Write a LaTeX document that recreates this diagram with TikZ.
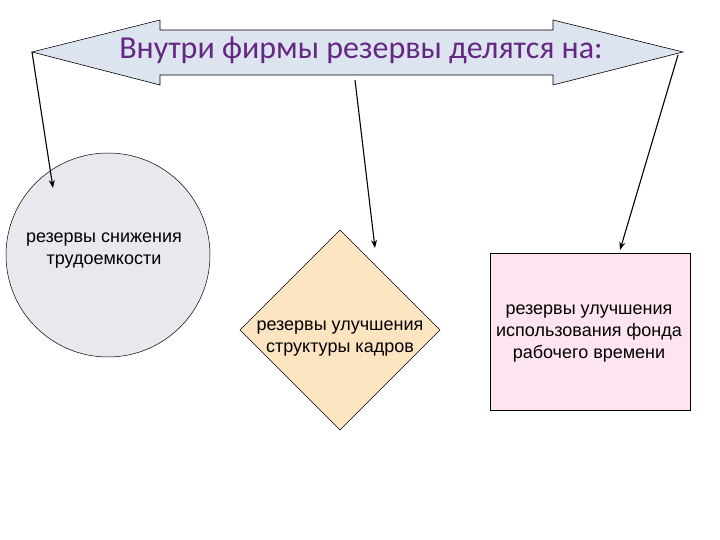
\documentclass[tikz,border=0pt]{standalone}
\usepackage{fontspec}
\setmainfont{Liberation Sans}
\newfontfamily\titlefont{Carlito}
\usetikzlibrary{arrows.meta}
\begin{document}
\begin{tikzpicture}[x=1pt,y=-1pt,
  lbl/.style={align=center,font=\fontsize{18}{22}\selectfont},
  conn/.style={-{Stealth[length=8pt,width=6pt]},line width=1.1pt}]
\useasboundingbox (0,0) rectangle (720,540);
\draw[fill={rgb,255:red,220;green,228;blue,240},line width=0.6pt]
  (32,52) -- (160,20) -- (160,30) -- (553,30) -- (553,20) -- (683,52)
  -- (553,85) -- (553,75) -- (160,75) -- (160,85) -- cycle;
\node[font=\titlefont\fontsize{32}{36}\selectfont,text={rgb,255:red,100;green,40;blue,130}] (title) at (361,50) {Внутри фирмы резервы делятся на:};
\coordinate (a1) at (32,52);
\coordinate (a2) at (355,80);
\coordinate (a3) at (678,55);
\draw[fill={rgb,255:red,232;green,232;blue,238},line width=0.5pt] (108,255) circle (102);
\node[lbl] (c) at (104,251) {резервы снижения\\трудоемкости};
\draw[fill={rgb,255:red,252;green,228;blue,192},line width=0.5pt]
  (340,230) -- (440,330) -- (340,430) -- (240,330) -- cycle;
\node[lbl] (d) at (340,339) {резервы улучшения\\структуры кадров};
\draw[fill={rgb,255:red,253;green,228;blue,240},line width=0.5pt] (490,253) rectangle (690,410);
\node[lbl] (r) at (589,334) {резервы улучшения\\использования фонда\\рабочего времени};
\coordinate (b1) at (53,188);
\coordinate (b2) at (375,248);
\coordinate (b3) at (620,250);
\draw[conn] (a1) -- (b1);
\draw[conn] (a2) -- (b2);
\draw[conn] (a3) -- (b3);
\end{tikzpicture}
\end{document}
